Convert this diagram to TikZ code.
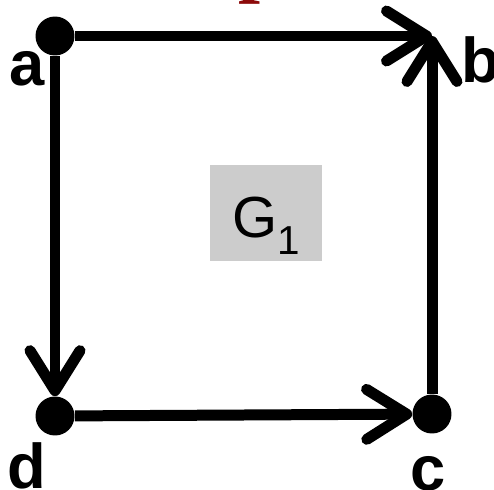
\documentclass[tikz,border=0pt]{standalone}
\usepackage{fontspec}
\setmainfont{Liberation Sans}
\newfontfamily\titlefont{Liberation Serif}
\usetikzlibrary{arrows.meta}
\definecolor{darkred}{RGB}{140,10,10}

\begin{document}
\begin{tikzpicture}[x=0.02cm, y=-0.02cm,
    vertex/.style={circle, fill=black, minimum size=0.78cm, inner sep=0pt},
    edge/.style={line width=0.22cm, -{Straight Barb[length=0.8cm, width=1.0cm, round]}},
    lbl/.style={font=\fontsize{36}{40}\selectfont\bfseries, anchor=base, inner sep=0pt}]

    \useasboundingbox (0,0) rectangle (494,490);

    % title, cut off by the top edge
    \node[anchor=base, inner sep=0pt, text=darkred, font=\titlefont\fontsize{45}{50}\selectfont\bfseries] (title) at (260,-12) {p};

    \node[vertex] (a) at (55,36) {};
    \coordinate (b) at (432,36);
    \node[vertex] (c) at (432,414) {};
    \node[vertex] (d) at (55,416) {};

    \draw[edge] (a) -- (b);
    \draw[edge] (a) -- (d);
    \draw[edge] (d) -- (c);
    \draw[edge] (c) -- (b);

    \node[lbl] (la) at (27,85) {a};
    \node[lbl] (lb) at (481,82) {b};
    \node[lbl] (lc) at (428,490) {c};
    \node[lbl] (ld) at (27,488) {d};

    \node[fill=gray!40, inner sep=0pt, minimum width=2.26cm, minimum height=1.94cm,
          text height=1.34cm, text depth=0.34cm, font=\fontsize{33}{36}\selectfont] (g1) at (266,213)
          {G\raisebox{-0.34cm}{\fontsize{23}{26}\selectfont 1}};
\end{tikzpicture}
\end{document}
